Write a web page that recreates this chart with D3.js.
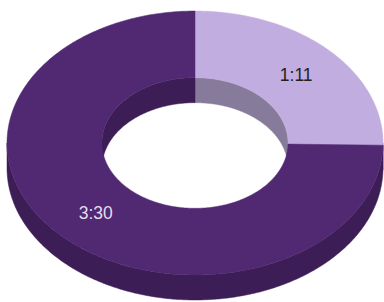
<!DOCTYPE html>
<html><head><meta charset="utf-8">
<script src="https://cdn.jsdelivr.net/npm/d3@7/dist/d3.min.js"></script>
<style>html,body{margin:0;padding:0;background:#fff;overflow:hidden}</style>
</head><body>
<svg id="c" width="384" height="302"></svg>
<script>
const categories = ["1:11", "3:30"];
const values = [71, 210];           // minutes
const topColors = ["#c1addf", "#512872"];
const sideColors = ["#877b9b", "#3c1d55"];
const labelColors = ["#222222", "#e4dcee"];

const W = 384, H = 302;
const cx = 195, cy = 143, rxOuter = 188, tilt = 0.702, innerRatio = 0.495, depth = 25;
const rxInner = rxOuter * innerRatio;

const svg = d3.select("#c");
const pie = d3.pie().sort(null).value(d => d).startAngle(0).endAngle(2 * Math.PI);
const arcs = pie(values);

const xS = d3.scaleLinear().domain([-1, 1]).range([cx - 1, cx + 1]);
function pt(r, a, dy) {
  return [cx + r * Math.sin(a), cy - r * Math.cos(a) * tilt + (dy || 0)];
}
function arcPts(r, a0, a1, dy) {
  const n = Math.max(2, Math.ceil(Math.abs(a1 - a0) / 0.01));
  const out = [];
  for (let i = 0; i <= n; i++) out.push(pt(r, a0 + (a1 - a0) * i / n, dy));
  return out;
}
function intersect(a0, a1, v0, v1) {
  const res = [];
  for (const k of [-2, -1, 0, 1]) {
    const s = Math.max(a0, v0 + k * 2 * Math.PI), e = Math.min(a1, v1 + k * 2 * Math.PI);
    if (e > s) res.push([s, e]);
  }
  return res;
}
const line = d3.line();

const gWalls = svg.append("g");
const gTop = svg.append("g");

arcs.forEach((d, i) => {
  // inner wall (back half visible)
  intersect(d.startAngle, d.endAngle, -Math.PI / 2, Math.PI / 2).forEach(([s, e]) => {
    const p = arcPts(rxInner, s, e, 0).concat(arcPts(rxInner, e, s, depth));
    gWalls.append("path").attr("d", line(p) + "Z").attr("fill", sideColors[i])
      .attr("stroke", sideColors[i]).attr("stroke-width", 0.5);
  });
  // outer wall (front half visible)
  intersect(d.startAngle, d.endAngle, Math.PI / 2, 3 * Math.PI / 2).forEach(([s, e]) => {
    const p = arcPts(rxOuter, s, e, 0).concat(arcPts(rxOuter, e, s, depth));
    gWalls.append("path").attr("d", line(p) + "Z").attr("fill", i === 1 ? "#3c1d55" : "#7a6496")
      .attr("stroke", i === 1 ? "#3c1d55" : "#7a6496").attr("stroke-width", 0.5);
  });
});

arcs.forEach((d, i) => {
  const p = arcPts(rxOuter, d.startAngle, d.endAngle, 0).concat(arcPts(rxInner, d.endAngle, d.startAngle, 0));
  gTop.append("path").attr("d", line(p) + "Z").attr("fill", topColors[i])
    .attr("stroke", topColors[i]).attr("stroke-width", 0.5);
});

arcs.forEach((d, i) => {
  const mid = (d.startAngle + d.endAngle) / 2;
  const [x, y] = pt((rxOuter + rxInner) / 2, mid, 0);
  svg.append("text").attr("x", x + 1).attr("y", y + 1)
    .attr("text-anchor", "middle").attr("dominant-baseline", "central")
    .attr("font-family", "Liberation Sans, Arial, sans-serif").attr("font-size", 17.5)
    .attr("fill", labelColors[i]).text(categories[i]);
});
</script>
</body></html>
